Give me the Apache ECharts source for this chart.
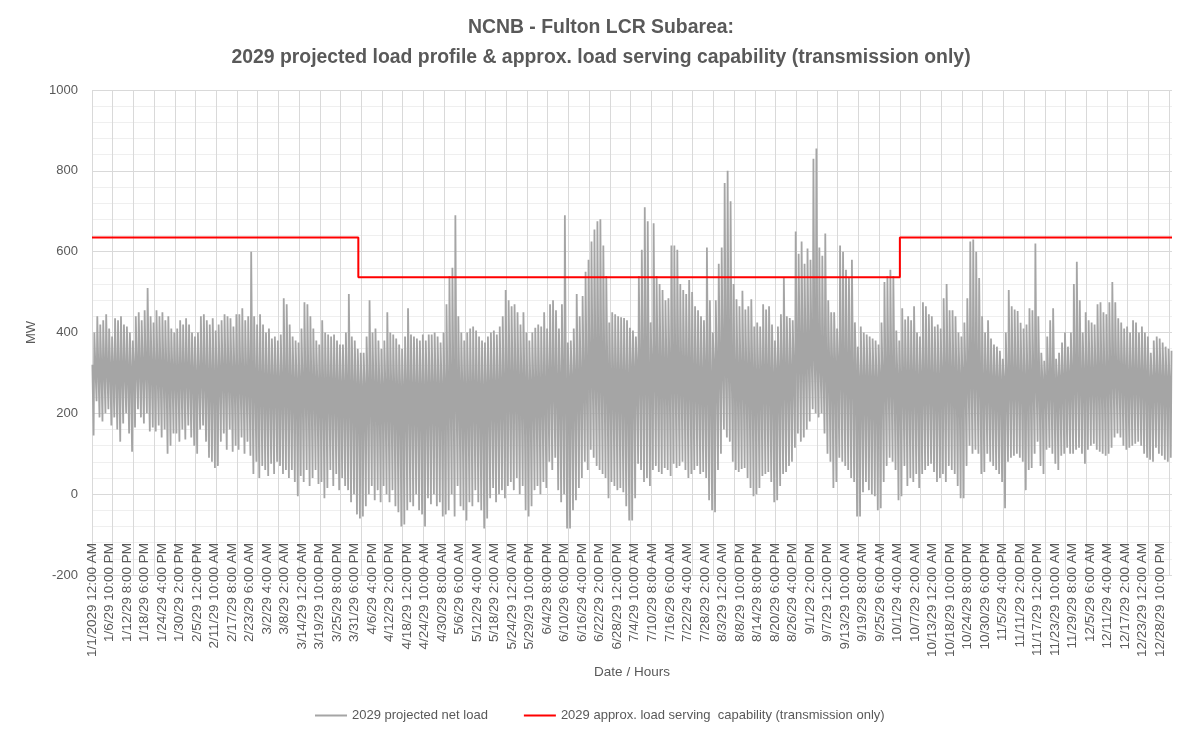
<!DOCTYPE html>
<html>
<head>
<meta charset="utf-8">
<title>NCNB - Fulton LCR Subarea</title>
<script src="https://cdn.jsdelivr.net/npm/echarts@6/dist/echarts.min.js"></script>
</head>
<body style="margin:0">
<div id="container" style="width:1179px;height:732px;"></div>
<script type="text/javascript">

// daily evening peak (MW), one row per week
var dailyPeak = [
  400, 440, 420, 430, 445, 410, 390,
  435, 430, 440, 420, 415, 400, 380,
  440, 450, 430, 455, 510, 440, 425,
  455, 440, 450, 430, 440, 410, 400,
  410, 430, 420, 435, 420, 400, 390,
  400, 440, 445, 430, 420, 435, 405,
  420, 430, 445, 440, 435, 415, 445,
  445, 460, 430, 440, 600, 440, 420,
  445, 420, 400, 410, 385, 390, 380,
  395, 485, 470, 420, 390, 380, 375,
  410, 475, 470, 440, 410, 380, 370,
  430, 400, 395, 390, 395, 380, 370,
  370, 400, 495, 390, 380, 360, 350,
  350, 390, 480, 400, 410, 380, 360,
  380, 450, 400, 395, 385, 370, 360,
  390, 460, 395, 390, 385, 380, 395,
  380, 395, 395, 400, 390, 375, 400,
  470, 540, 560, 690, 440, 400, 380,
  400, 410, 415, 405, 390, 380, 375,
  390, 400, 405, 395, 415, 440, 505,
  480, 465, 470, 450, 420, 450, 400,
  380, 400, 412, 420, 415, 450, 410,
  470, 480, 455, 410, 470, 690, 375,
  380, 410, 495, 440, 490, 550, 580,
  625, 655, 675, 680, 615, 540, 425,
  450, 445, 440, 438, 436, 430, 412,
  405, 390, 540, 605, 710, 675, 425,
  670, 540, 520, 505, 480, 485, 615,
  615, 605, 520, 505, 495, 530, 500,
  465, 455, 440, 430, 610, 480, 400,
  480, 570, 610, 770, 800, 725, 520,
  482, 465, 503, 457, 465, 482, 415,
  425, 415, 470, 457, 465, 420, 380,
  415, 445, 537, 440, 436, 430, 650,
  595, 625, 570, 608, 580, 830, 855,
  610, 590, 645, 480, 450, 450, 410,
  615, 600, 555, 535, 580, 425, 365,
  415, 400, 395, 390, 385, 380, 370,
  425, 525, 540, 555, 540, 405, 380,
  460, 432, 440, 430, 465, 400, 390,
  475, 465, 445, 440, 415, 420, 410,
  485, 520, 455, 455, 440, 400, 390,
  425, 485, 625, 630, 600, 535, 440,
  400, 430, 385, 370, 365, 355, 335,
  400, 505, 465, 457, 453, 424, 410,
  420, 460, 455, 620, 440, 350, 330,
  390, 430, 460, 335, 350, 375, 400,
  365, 400, 520, 575, 480, 400, 450,
  430, 425, 420, 470, 475, 450, 445,
  475, 525, 475, 435, 425, 410, 415,
  400, 430, 425, 400, 415, 400, 390,
  350, 380, 390, 385, 375, 365, 360,
  355
];

// daily midday low (MW)
var dailyTrough = [
  145, 230, 190, 180, 200, 210, 170,
  190, 160, 130, 175, 200, 150, 105,
  165, 210, 190, 175, 200, 155, 165,
  155, 170, 140, 160, 100, 120, 150,
  150, 130, 160, 135, 170, 140, 120,
  100, 160, 170, 130, 90, 80, 65,
  70, 130, 150, 110, 160, 105, 120,
  110, 140, 100, 130, 95, 50, 80,
  40, 70, 60, 45, 75, 50, 80,
  70, 50, 60, 40, 60, 30, -5,
  45, 30, 60, 20, 40, 60, 25,
  30, -10, 15, 60, 20, 50, 10,
  40, 20, 10, -20, 0, -50, -60,
  -55, -30, 0, 20, -15, 10, -20,
  20, 0, -20, 10, -30, -45, -80,
  -75, -40, -20, -30, 0, -40, -50,
  -80, -10, -25, 0, -30, -20, -55,
  -50, -40, 0, -55, 20, -30, -40,
  -65, -20, -30, 10, -20, -40, -85,
  -60, -10, 15, -20, 0, 10, -10,
  20, 30, 10, 40, 0, 20, -40,
  -55, -30, 10, 20, 0, 30, 15,
  80, 60, 90, 10, -20, 0, -85,
  -85, -40, -15, 15, 40, 80, 60,
  110, 90, 70, 60, 50, 40, -10,
  30, 20, 10, 15, 5, -30, -65,
  -65, -10, 75, 60, 30, 40, 20,
  60, 70, 55, 50, 65, 60, 45,
  75, 65, 70, 80, 60, 40, 50,
  60, 70, 50, 55, 40, -15, -40,
  -45, 60, 100, 160, 140, 130, 80,
  60, 55, 62, 65, 40, 15, -5,
  0, 15, 45, 50, 55, 30, -20,
  -15, 20, 50, 55, 70, 80, 115,
  150, 130, 140, 160, 180, 210, 200,
  190, 200, 150, 100, 80, 15, 30,
  90, 80, 70, 60, 40, 30, -55,
  -55, 5, 30, 10, 0, -5, -40,
  -35, 30, 70, 90, 80, 60, -15,
  -5, 70, 20, 40, 30, 50, 15,
  50, 60, 70, 75, 55, 30, 40,
  50, 30, 70, 60, 50, 20, -10,
  -10, 70, 120, 100, 110, 100, 50,
  55, 100, 80, 70, 60, 50, 30,
  -35, 80, 90, 95, 100, 90, 80,
  10, 60, 65, 100, 130, 70, 50,
  110, 115, 100, 75, 60, 95, 100,
  115, 100, 100, 110, 115, 100, 75,
  110, 120, 125, 110, 105, 100, 95,
  100, 115, 140, 150, 140, 120, 110,
  115, 120, 125, 130, 120, 100, 90,
  85, 80, 115, 100, 95, 85, 80,
  90
];

// night-time level per week (centre of the dense band)
var weeklyNight = [
  320, 315, 320, 315, 310, 300, 305, 300,
  290, 285, 285, 280, 275, 270, 270,
  270, 270, 275, 270, 275, 285, 280,
  290, 295, 320, 300, 320, 320, 315, 305,
  330, 310, 305, 310, 360, 330, 320,
  290, 300, 295, 290, 300, 310, 290, 290,
  290, 290, 300, 300, 310, 300, 290, 290
];

// load serving capability steps: start row -> MW
var capStartHour = [0, 2160, 6552, 8759];
var capMW = [635, 537, 635, 635];

var HOURS = 8760;
var hours = [];
for (var i = 0; i < HOURS; i++) hours.push(i);

// the sheet's timestamps skip one day at the end of February
function hourLabel(h) {
    var shift = h >= 1392 ? 24 : 0;
    var d = new Date(Date.UTC(2029, 0, 1) + (h + shift) * 3600000);
    var hr = d.getUTCHours();
    var ap = hr < 12 ? 'AM' : 'PM';
    var h12 = hr % 12 === 0 ? 12 : hr % 12;
    var yr = h === 0 ? '2029' : '29';
    return (d.getUTCMonth() + 1) + '/' + d.getUTCDate() + '/' + yr + ' ' + h12 + ':00 ' + ap;
}

var loadData = [];
for (var d = 0; d < dailyPeak.length; d++) {
    loadData.push([d * 24 + 3, weeklyNight[Math.floor(d / 7)]]);
    loadData.push([d * 24 + 13, dailyTrough[d]]);
    loadData.push([d * 24 + 19, dailyPeak[d]]);
}

var capData = [];
for (var k = 0; k < capStartHour.length; k++) {
    capData.push([capStartHour[k], capMW[k]]);
}

var txt = '#595959';
var font = 'Liberation Sans';
var myChart = echarts.init(document.getElementById('container'));

var option = {
    backgroundColor: '#fff',
    animation: false,
    title: {
        text: 'NCNB - Fulton LCR Subarea:\n2029 projected load profile & approx. load serving capability (transmission only)',
        left: 601,
        top: 13,
        textAlign: 'center',
        padding: 0,
        textStyle: {
            fontFamily: font,
            fontWeight: 'bold',
            fontSize: 19.4,
            lineHeight: 30,
            color: txt
        }
    },
    legend: {
        left: 310,
        top: 704,
        itemGap: 36,
        itemWidth: 32,
        itemHeight: 2,
        textStyle: { color: txt, fontSize: 13, fontFamily: font },
        data: [
            { name: '2029 projected net load', icon: 'rect' },
            { name: '2029 approx. load serving  capability (transmission only)', icon: 'rect' }
        ]
    },
    grid: { left: 92, right: 7, top: 90, bottom: 157 },
    xAxis: {
        type: 'category',
        data: hours,
        boundaryGap: false,
        name: 'Date / Hours',
        nameLocation: 'middle',
        nameGap: 85,
        nameTextStyle: { color: txt, fontSize: 13.5, fontFamily: font },
        axisLine: { show: false },
        axisTick: { show: false },
        axisLabel: {
            interval: 141,
            rotate: 90,
            margin: -32,
            color: txt,
            fontSize: 13.5,
            fontFamily: font,
            formatter: function (v) { return hourLabel(+v); }
        },
        splitLine: { show: true, interval: 167, lineStyle: { color: '#d9d9d9', width: 1 } }
    },
    yAxis: {
        type: 'value',
        min: -200,
        max: 1000,
        interval: 200,
        name: 'MW',
        nameLocation: 'middle',
        nameGap: 47,
        nameTextStyle: { color: txt, fontSize: 13, fontFamily: font },
        axisLine: { show: false },
        axisTick: { show: false },
        axisLabel: {
            color: txt, fontSize: 13, margin: 14, fontFamily: font,
            formatter: function (v) { return String(v); }
        },
        splitLine: { lineStyle: { color: '#d9d9d9', width: 1 } },
        minorTick: { show: false, splitNumber: 5 },
        minorSplitLine: { show: true, lineStyle: { color: '#efefef', width: 1 } }
    },
    series: [{
        name: '2029 projected net load',
        type: 'line',
        data: loadData,
        symbol: 'none',
        color: '#a5a5a5',
        lineStyle: { color: '#a5a5a5', width: 1.8 },
        z: 2
    }, {
        name: '2029 approx. load serving  capability (transmission only)',
        type: 'line',
        data: capData,
        step: 'end',
        symbol: 'none',
        color: '#ff0000',
        lineStyle: { color: '#ff0000', width: 2 },
        z: 3
    }]
};

myChart.setOption(option);
</script>
</body>
</html>
